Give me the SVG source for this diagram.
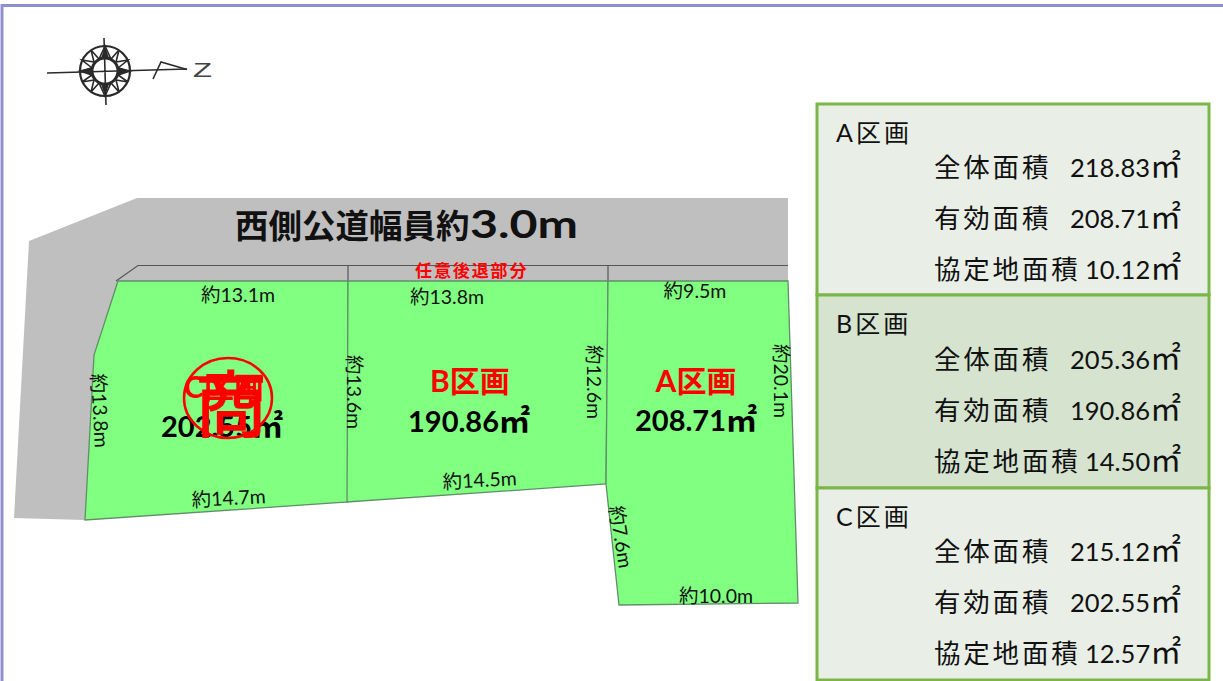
<svg xmlns="http://www.w3.org/2000/svg" width="1223" height="681" viewBox="0 0 1223 681">
<style>
text{font-family:Lato,"Noto Sans CJK JP",sans-serif;fill:#111}
.dim{font-size:19.500px;text-anchor:middle}
.sec{font-size:30px;font-weight:bold;fill:#f00;text-anchor:middle}
.area{font-size:29px;font-weight:bold;fill:#000;text-anchor:middle}
.m2{font-size:31px}
.row{font-size:26.500px;letter-spacing:2.800px}
.val{font-size:25.500px}
.val .m2{font-size:31px}
.head{font-size:25px;letter-spacing:3px}
.cell{stroke:#7ab648;stroke-width:3}
.lot{fill:#80ff80;stroke:#5f8f68;stroke-width:1.3}
.ln{stroke:#555;stroke-width:1.2;fill:none}
.cp{stroke:#2a2a2a;fill:none;stroke-width:1.6}
</style>
<rect width="1223" height="681" fill="#fff"/>
<path d="M2 681V5.500H1223" fill="none" stroke="#8f8fd0" stroke-width="3"/>
<g id="compass">
<path class="cp" d="M47 73L187 69M104 38L106 105"/>
<circle class="cp" cx="105" cy="71" r="25" style="stroke-width:2.200"/>
<circle class="cp" cx="105" cy="71" r="13" style="stroke-width:3"/>
<path class="cp" d="M105 46L99 59L91 50L94 62L82 60L92 68L80 71L92 75L82 82L94 80L91 92L99 83L105 96L111 83L119 92L116 80L128 82L118 75L130 71L118 68L128 60L116 62L119 50L111 59Z"/>
<path d="M105 46L101 58H109ZM105 96L101 84H109ZM80 71L92 67V75ZM130 71L118 67V75Z" fill="#2a2a2a"/>
<path class="cp" d="M153 79L161 62L187 69.500"/>
<text x="193" y="77" font-size="21" textLength="19" lengthAdjust="spacingAndGlyphs" style="fill:#444;font-family:'Liberation Sans'">Z</text>
</g>
<g id="road">
<path d="M29 241L137 198H788V282H118L96 352L85 520L14 518Z" fill="#bfbfbf"/>
<path class="ln" d="M116 281L138 265.500H788M348 265V281M608 265V281"/>
<text x="235" y="238" font-size="33.500" font-weight="bold">西側公道幅員約</text>
<text x="470" y="238" font-size="38" font-weight="bold" textLength="108" lengthAdjust="spacingAndGlyphs">3.0m</text>
<text x="415" y="277" font-size="17" font-weight="bold" letter-spacing="1.900" style="fill:#f00">任意後退部分</text>
</g>
<g id="lot-c">
<path class="lot" d="M118 281H348V502L85 520L94 355Z"/>
<text class="sec" x="224" y="398">C区画</text>
<text class="area" x="222" y="437">202.55<tspan class="m2">㎡</tspan></text>
<text class="dim" x="238" y="302">約13.1m</text>
<text class="dim" x="229" y="505" transform="rotate(-3 229 505)">約14.7m</text>
<text class="dim" transform="translate(93 411) rotate(87)">約13.8m</text>
</g>
<g id="lot-b">
<path class="lot" d="M348 281H608L606 484L347 502Z"/>
<text class="sec" x="470" y="392">B区画</text>
<text class="area" x="469" y="432">190.86<tspan class="m2">㎡</tspan></text>
<text class="dim" x="447" y="304">約13.8m</text>
<text class="dim" x="480" y="487" transform="rotate(-3 480 487)">約14.5m</text>
<text class="dim" transform="translate(347 392) rotate(90)">約13.6m</text>
<text class="dim" transform="translate(587 382) rotate(90)">約12.6m</text>
</g>
<g id="lot-a">
<path class="lot" d="M608 281H788L798 603L619 605L606 484Z"/>
<text class="sec" x="696" y="392">A区画</text>
<text class="area" x="696" y="431">208.71<tspan class="m2">㎡</tspan></text>
<text class="dim" x="695" y="298">約9.5m</text>
<text class="dim" x="716" y="603">約10.0m</text>
<text class="dim" transform="translate(774 381) rotate(90)">約20.1m</text>
<text class="dim" transform="translate(614 538) rotate(81)">約7.6m</text>
</g>
<g id="stamp">
<ellipse cx="228" cy="398" rx="44" ry="40" fill="none" stroke="#f00" stroke-width="2.500"/>
<text x="231" y="431" font-size="72" text-anchor="middle" stroke="#f00" stroke-width="1.500" style="fill:#f00">商</text>
</g>
<g id="table">
<rect class="cell" x="817" y="104" width="392" height="191" fill="#e9efe7"/>
<rect class="cell" x="817" y="295" width="392" height="193" fill="#d5e3cf"/>
<rect class="cell" x="817" y="488" width="392" height="192" fill="#e9efe7"/>
<text class="head" x="836" y="142">A区画</text>
<text class="row" x="934" y="177">全体面積</text><text class="val" x="1070" y="177">218.83<tspan class="m2">㎡</tspan></text>
<text class="row" x="934" y="228">有効面積</text><text class="val" x="1070" y="228">208.71<tspan class="m2">㎡</tspan></text>
<text class="row" x="934" y="279">協定地面積</text><text class="val" x="1085" y="279">10.12<tspan class="m2">㎡</tspan></text>
<text class="head" x="836" y="333">B区画</text>
<text class="row" x="934" y="369">全体面積</text><text class="val" x="1070" y="369">205.36<tspan class="m2">㎡</tspan></text>
<text class="row" x="934" y="420">有効面積</text><text class="val" x="1070" y="420">190.86<tspan class="m2">㎡</tspan></text>
<text class="row" x="934" y="471">協定地面積</text><text class="val" x="1085" y="471">14.50<tspan class="m2">㎡</tspan></text>
<text class="head" x="836" y="526">C区画</text>
<text class="row" x="934" y="561">全体面積</text><text class="val" x="1070" y="561">215.12<tspan class="m2">㎡</tspan></text>
<text class="row" x="934" y="612">有効面積</text><text class="val" x="1070" y="612">202.55<tspan class="m2">㎡</tspan></text>
<text class="row" x="934" y="663">協定地面積</text><text class="val" x="1085" y="663">12.57<tspan class="m2">㎡</tspan></text>
</g>
</svg>
